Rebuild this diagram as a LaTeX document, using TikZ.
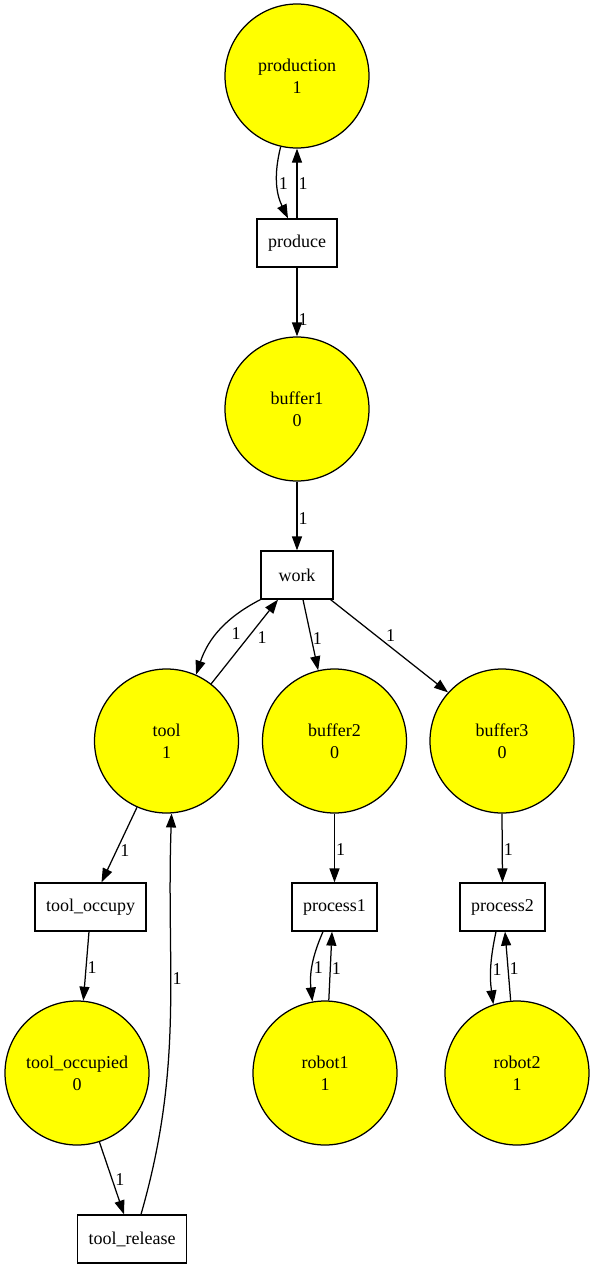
\documentclass[tikz,border=0pt]{standalone}
\usepackage{fontspec}
\setmainfont{Liberation Serif}
\usepackage{tikz}
\definecolor{placefill}{RGB}{255,255,0}
\tikzstyle{place} = [circle, draw, fill=placefill, minimum size=144pt,
    inner sep=0pt, align=center, font=\fontsize{18}{22}\selectfont]
\tikzstyle{trans} = [rectangle, draw, fill=white, minimum width=72pt,
    minimum height=48pt, inner xsep=11pt, font=\fontsize{18}{22}\selectfont]
\tikzstyle{wt} = [right, inner sep=1pt, font=\fontsize{18}{22}\selectfont]
\usetikzlibrary{arrows.meta}
\tikzset{>={Triangle[length=14pt,width=10pt]}}

\begin{document}
\begin{tikzpicture}[x=1pt,y=1pt,line width=1.25pt]
    \useasboundingbox (0,0) rectangle (595,-1269);
    %places
    \node[place] (production) at (297,-76) {production\\1};
    \node[place] (buffer1) at (297,-409) {buffer1\\0};
    \node[place] (tool) at (166.5,-741) {tool\\1};
    \node[place] (buffer2) at (334.5,-741) {buffer2\\0};
    \node[place] (buffer3) at (502,-741) {buffer3\\0};
    \node[place] (tooloccupied) at (77,-1073) {tool\_occupied\\0};
    \node[place] (robot1) at (325,-1073) {robot1\\1};
    \node[place] (robot2) at (517,-1073) {robot2\\1};
    %transitions
    \node[trans] (produce) at (297,-243) {produce};
    \node[trans] (work) at (297,-575) {work};
    \node[trans] (tooloccupy) at (90.5,-907) {tool\_occupy};
    \node[trans] (process1) at (334.5,-907) {process1};
    \node[trans] (process2) at (502.5,-907) {process2};
    \node[trans] (toolrelease) at (132,-1239) {tool\_release};
    %arcs
    \draw [->] (production.257) to[bend right=20] node[wt] {1} ([xshift=-9pt]produce.north);
    \draw [->] (produce.north) -- node[wt] {1} (production.south);
    \draw [->] (produce.south) -- node[wt, pos=0.75] {1} (buffer1.north);
    \draw [->] (buffer1.south) -- node[wt, pos=0.54] {1} (work.north);
    \draw [->] (work.south west) to[bend right=22] node[wt, pos=0.55, xshift=13pt] {1} (tool.66);
    \draw [->] (tool.52) -- node[wt, pos=0.55, xshift=8pt] {1} ([xshift=-19pt]work.south);
    \draw [->] ([xshift=6pt]work.south) -- node[wt, pos=0.55] {1} (buffer2.103);
    \draw [->] ([xshift=-3pt]work.south east) -- node[wt, pos=0.39, xshift=8pt] {1} (buffer3.138);
    \draw [->] (tool.246) -- node[wt, pos=0.57, xshift=2pt] {1} ([xshift=11pt]tooloccupy.north);
    \draw [->] ([xshift=-1.5pt]tooloccupy.south) -- node[wt, pos=0.52] {1} (tooloccupied.85);
    \draw [->] (tooloccupied.288) -- node[wt, pos=0.52, xshift=1.5pt] {1} ([xshift=-8pt]toolrelease.north);
    \draw [->] ([xshift=9pt]toolrelease.north) to[out=74, in=-92] node[wt, pos=0.6] {1} (tool.274);
    \draw [->] (buffer2.south) -- node[wt, pos=0.52] {1} (process1.north);
    \draw [->] (buffer3.south) -- node[wt, pos=0.52] {1} (process2.north);
    \draw [->] ([xshift=-11.5pt]process1.south) to[bend right=15] node[wt, pos=0.52] {1} (robot1.100);
    \draw [->] (robot1.87) -- node[wt, pos=0.47] {1} ([xshift=-2.5pt]process1.south);
    \draw [->] ([xshift=-6.5pt]process2.south) to[bend right=10] node[wt, pos=0.52] {1} (robot2.109);
    \draw [->] (robot2.95) -- node[wt, pos=0.47] {1} ([xshift=2.5pt]process2.south);
\end{tikzpicture}
\end{document}
